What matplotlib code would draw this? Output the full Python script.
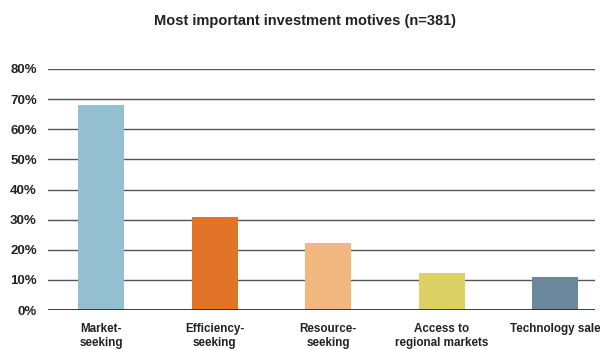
import matplotlib.pyplot as plt
from matplotlib.ticker import PercentFormatter

# survey shares per motive
motives = ["Market-\nseeking", "Efficiency-\nseeking", "Resource-\nseeking",
           "Access to\nregional markets", "Technology sale"]
shares = [0.681, 0.309, 0.223, 0.123, 0.111]
colors = ["#93BFD0", "#E2742A", "#F2B77F", "#DCD165", "#6A879C"]

plt.rcParams['font.family'] = ['Liberation Sans', 'DejaVu Sans']
plt.rcParams['font.weight'] = 'bold'

fig = plt.figure(figsize=(6, 3.49), dpi=100)
ax = fig.add_axes([0.08, 0.1117, 0.912, 0.6906])

x = range(len(motives))
ax.set_axisbelow(True)
ax.yaxis.grid(True, color="#555555", linewidth=1.0)
ax.bar(x, shares, width=0.405, color=colors, zorder=3)

ax.set_ylim(0, 0.8)
ax.set_xlim(-0.467, 4.35)
ax.set_yticks([i / 10 for i in range(9)])
ax.yaxis.set_major_formatter(PercentFormatter(1.0, decimals=0))
ax.set_xticks(list(x))
ax.set_xticklabels(motives, fontsize=8.4, fontweight='bold', color="#222222",
                   linespacing=1.3, va='top')
for lbl in ax.get_yticklabels():
    lbl.set_fontsize(9.5)
    lbl.set_fontweight('bold')
    lbl.set_color("#222222")
ax.tick_params(axis='y', length=0, pad=8)
ax.tick_params(axis='x', length=0, pad=9)
for s in ax.spines.values():
    s.set_visible(False)
ax.axhline(0, color="#222222", linewidth=1.2, zorder=4)

fig.text(0.508, 0.94, "Most important investment motives (n=381)",
         ha='center', va='center', fontsize=10.5, fontweight='bold', color="#222222")

fig.savefig("out.png", dpi=100)
